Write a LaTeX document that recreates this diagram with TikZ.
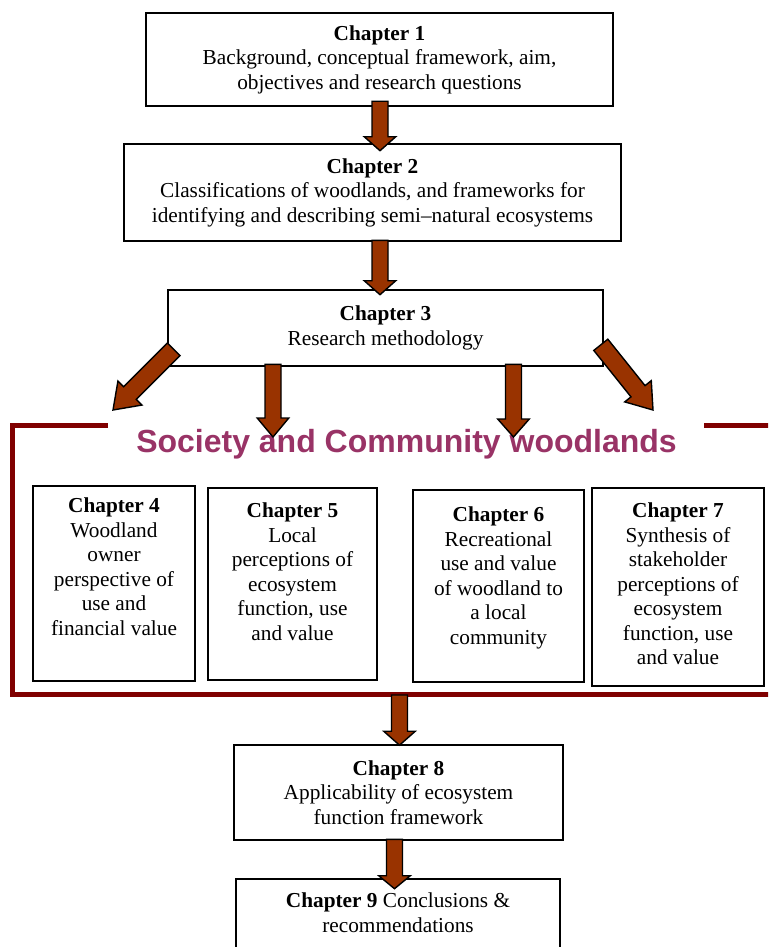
\documentclass[tikz,border=0pt]{standalone}
\usepackage{fontspec}
\setmainfont{Liberation Serif}
\newfontfamily\headfont{Liberation Sans}
\usetikzlibrary{calc}
\definecolor{arrowbrown}{HTML}{993300}
\definecolor{framered}{HTML}{800000}
\definecolor{titleplum}{HTML}{993366}
\tikzset{
  chapfont/.style={font=\fontsize{21.3}{24.5}\selectfont},
  bigbox/.style={draw=black, line width=2.6pt, fill=white, align=center, chapfont, inner sep=0pt},
  smallbox/.style={draw=black, line width=1.6pt, fill=white, inner sep=0pt},
  boxtext/.style={align=center, chapfont, inner sep=0pt, anchor=north},
  barrow/.style={draw=black, line width=1.4pt, fill=arrowbrown, line join=miter},
  frameline/.style={draw=framered, line width=5pt},
  titletext/.style={font=\headfont\bfseries\fontsize{32}{38}\selectfont, text=titleplum, anchor=base, inner sep=0pt}
}
\newcommand\bashaft{8pt}
\newcommand\bahead{15.8pt}
% block arrow from #2 to #3, head length #1
\newcommand\blockarrow[3][14pt]{%
  \coordinate (bah) at ($(#3)!#1!(#2)$);
  \draw[barrow] ($(#2)!\bashaft!90:(#3)$)
    -- ($(bah)!\bashaft!90:(#3)$)
    -- ($(bah)!\bahead!90:(#3)$)
    -- (#3)
    -- ($(bah)!\bahead!-90:(#3)$)
    -- ($(bah)!\bashaft!-90:(#3)$)
    -- ($(#2)!\bashaft!-90:(#3)$)
    -- cycle;}
\begin{document}
\begin{tikzpicture}[x=1pt,y=-1pt]
\useasboundingbox (0,0) rectangle (768,947);
\clip (0,0) rectangle (768,947);

% frame round the society and community chapters
\draw[frameline] (108,425.5) -- (12,425.5) -- (12,694.5) -- (790,694.5) -- (790,425.5) -- (704,425.5);
\node[titletext] (title) at (406.5,452) {Society and Community woodlands};

% main chapter boxes
\node[bigbox, minimum width=467pt, minimum height=93pt] (c1) at (379.5,59.5)
  {\textbf{Chapter 1}\\Background, conceptual framework, aim,\\objectives and research questions};
\node[bigbox, minimum width=497pt, minimum height=97pt] (c2) at (372.5,192.5)
  {\textbf{Chapter 2}\\Classifications of woodlands, and frameworks for\\identifying and describing semi–natural ecosystems};
\node[bigbox, minimum width=435pt, minimum height=76pt] (c3) at (385.5,328)
  {\textbf{Chapter 3}\\Research methodology};

% chapters inside the frame
\node[smallbox, minimum width=162pt, minimum height=195pt] (c4) at (114,583.5) {};
\node[boxtext] (c4t) at (114,498) {\textbf{Chapter 4}\\Woodland\\owner\\perspective of\\use and\\financial value};
\node[smallbox, minimum width=169pt, minimum height=192pt] (c5) at (292.5,584) {};
\node[boxtext] (c5t) at (292.5,503) {\textbf{Chapter 5}\\Local\\perceptions of\\ecosystem\\function, use\\and value};
\node[smallbox, minimum width=171pt, minimum height=192pt] (c6) at (498.5,586) {};
\node[boxtext] (c6t) at (498.5,507) {\textbf{Chapter 6}\\Recreational\\use and value\\of woodland to\\a local\\community};
\node[smallbox, minimum width=172pt, minimum height=198pt] (c7) at (678,587) {};
\node[boxtext] (c7t) at (678,503) {\textbf{Chapter 7}\\Synthesis of\\stakeholder\\perceptions of\\ecosystem\\function, use\\and value};

% closing chapters
\node[bigbox, minimum width=329pt, minimum height=95pt] (c8) at (398.5,792.5)
  {\textbf{Chapter 8}\\Applicability of ecosystem\\function framework};
\node[smallbox, line width=2.6pt, minimum width=324pt, minimum height=110pt] (c9) at (398,934) {};
\node[boxtext] (c9t) at (398,893) {\textbf{Chapter 9} Conclusions \&\\recommendations};

% arrow end points
\coordinate (a1s) at ($(c1.south)+(0.5,-6)$);
\coordinate (a1e) at ($(c2.north)+(7.5,8)$);
\coordinate (a2s) at ($(c2.south)+(7.5,-2)$);
\coordinate (a2e) at ($(c3.north)+(-5.5,6)$);
\coordinate (a3s) at ($(c3.south west)+(7,-18)$);
\coordinate (a3e) at (113,410);
\coordinate (a4s) at ($(c3.south)+(-112.5,-3)$);
\coordinate (a4e) at (273,437);
\coordinate (a5s) at ($(c3.south)+(128,-3)$);
\coordinate (a5e) at (513.5,437);
\coordinate (a6s) at ($(c3.south east)+(-3.5,-22.5)$);
\coordinate (a6e) at (653,410);
\coordinate (a7s) at (399.5,695);
\coordinate (a7e) at ($(c8.north)+(1,1.5)$);
\coordinate (a8s) at ($(c8.south)+(-4,-2)$);
\coordinate (a8e) at ($(c9.north)+(-3.5,11)$);

\blockarrow{a1s}{a1e}
\blockarrow{a2s}{a2e}
\blockarrow[19pt]{a4s}{a4e}
\blockarrow[18pt]{a5s}{a5e}
\blockarrow{a7s}{a7e}
\blockarrow[13pt]{a8s}{a8e}
% the two slanting arrows are a little broader
{\renewcommand\bashaft{9pt}\renewcommand\bahead{17pt}%
 \blockarrow[24pt]{a3s}{a3e}
 \blockarrow[24pt]{a6s}{a6e}}
\end{tikzpicture}
\end{document}
